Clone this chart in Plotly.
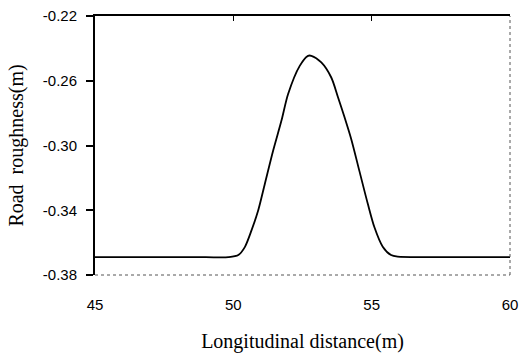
import plotly.graph_objects as go

# Longitudinal distance (m) and road roughness (m)
distance = [45.0, 47.0, 49.0, 49.82, 50.18, 50.42, 50.66, 50.90, 51.14, 51.44, 51.74, 51.98,
            52.40, 52.70, 52.82, 53.18, 53.54, 53.78, 54.02, 54.26,
            54.56, 54.86, 55.10, 55.40, 55.70, 55.94, 57.0, 58.5, 60.0]
roughness = [-0.369, -0.369, -0.369, -0.369, -0.3677, -0.3626, -0.3523, -0.340, -0.3236, -0.3031, -0.2846, -0.2682,
             -0.2508, -0.2446, -0.2446, -0.2487, -0.2580, -0.2700, -0.2826, -0.2960,
             -0.3160, -0.3360, -0.3505, -0.3625, -0.3677, -0.3687, -0.369, -0.369, -0.369]

x_ticks = [45, 50, 55, 60]
y_ticks = [-0.38, -0.34, -0.30, -0.26, -0.22]
y_tick_text = ["-0.38", "-0.34", "-0.30", "-0.26", "-0.22"]
top_ticks = [50, 55]

fig = go.Figure()
fig.add_trace(go.Scatter(x=distance, y=roughness, mode="lines",
                         line=dict(color="black", width=1.8, shape="spline", smoothing=0.8),
                         showlegend=False, hoverinfo="skip"))
fig.add_trace(go.Scatter(x=distance, y=roughness, mode="lines", xaxis="x2",
                         line=dict(color="rgba(0,0,0,0)", width=0),
                         showlegend=False, hoverinfo="skip"))

tick_font = dict(family="Liberation Sans", size=15, color="black")

fig.update_layout(
    width=519, height=353,
    margin=dict(l=95, r=9, t=16, b=78, autoexpand=False),
    paper_bgcolor="white", plot_bgcolor="white",
    xaxis=dict(range=[45, 60], tickvals=x_ticks, ticktext=[str(v) for v in x_ticks],
               showgrid=False, zeroline=False, showline=False, ticks="",
               automargin=False, ticklabeloverflow="allow",
               ticklabelstandoff=19, tickfont=tick_font,
               title=dict(text="Longitudinal distance(m)",
                          font=dict(family="Liberation Serif", size=20, color="black"),
                          standoff=22)),
    xaxis2=dict(range=[45, 60], overlaying="x", side="top", anchor="y",
                tickvals=top_ticks, showticklabels=False, ticks="inside", ticklen=5,
                tickcolor="black", tickwidth=1, showgrid=False, zeroline=False,
                showline=True, linecolor="black", linewidth=1.5),
    yaxis=dict(range=[-0.38, -0.22], tickvals=y_ticks, ticktext=y_tick_text,
               showgrid=False, zeroline=False, showline=True, linecolor="black",
               linewidth=2, ticks="outside", ticklen=7, tickwidth=1.5, tickcolor="black",
               automargin=False, ticklabelstandoff=6, tickfont=tick_font,
               title=dict(text="Road  roughness(m)",
                          font=dict(family="Liberation Serif", size=20, color="black"),
                          standoff=14)),
    shapes=[
        dict(type="line", xref="x domain", yref="y domain", x0=1, x1=1, y0=0, y1=1,
             line=dict(color="#555555", width=1, dash="dot")),
        dict(type="line", xref="x domain", yref="y domain", x0=0, x1=1, y0=0, y1=0,
             line=dict(color="#555555", width=1, dash="dot")),
    ],
)

fig.write_html("out.html")
